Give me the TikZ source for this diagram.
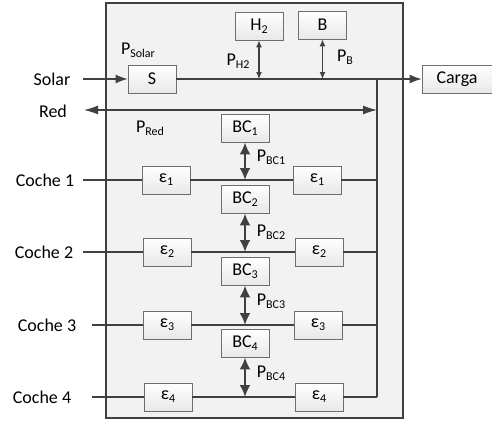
\documentclass[tikz,border=0pt]{standalone}
\usepackage{fontspec}
\setmainfont{Carlito}
\usetikzlibrary{arrows.meta,positioning}
\definecolor{linegray}{RGB}{64,64,64}
\definecolor{boxgray}{RGB}{110,110,110}
\definecolor{framefill}{RGB}{242,242,242}
\newcommand{\sub}[1]{\raisebox{-0.35ex}{\fontsize{12}{12}\selectfont #1}}

\begin{document}
\begin{tikzpicture}[
    x=1pt, y=-1pt,
    every node/.style={font=\fontsize{18}{20}\selectfont},
    frame/.style={rectangle, draw=linegray, fill=framefill, line width=1.4pt, minimum width=297pt, minimum height=415pt},
    block/.style={rectangle, draw=boxgray, top color=white, bottom color=gray!18, minimum width=48pt, minimum height=28pt, inner sep=0pt, line width=0.8pt},
    line/.style={draw=linegray, line width=1.2pt},
    arrow/.style={line, -{Latex[length=12pt,width=9pt]}},
    redarrow/.style={line, {Latex[length=14pt,width=9pt]}-{Latex[length=14pt,width=9pt]}},
    thinflow/.style={line, {Latex[length=7pt,width=6pt]}-{Latex[length=7pt,width=6pt]}},
    thickflow/.style={draw=linegray, line width=2.5pt, {Latex[length=12pt,width=11pt]}-{Latex[length=12pt,width=11pt]}}
]
\useasboundingbox (0,0) rectangle (492,423);

% System frame
\node[frame] (sistema) at (254.5,210.5) {};

% Sources and load
\node[block] (H2) at (259,26) {H\sub{2}};
\node[block] (B) at (322.5,25) {B};
\node[block] (S) at (152,79) {S};
\node[block, minimum width=70pt] (carga) at (457,79) {Carga};
\node (solar) at (52,79) {Solar};
\node (red) at (53,111) {Red};
\node (psolar) at (138,50) {P\sub{Solar}};
\node (ph2) at (238,61) {P\sub{H2}};
\node (pb) at (345,57) {P\sub{B}};
\node (pred) at (150,128) {P\sub{Red}};

\coordinate (solarin) at (83,79);
\coordinate (h2j) at (259,79);
\coordinate (bj) at (322.5,79);
\coordinate (redL) at (84,110);
\coordinate (redR) at (377,110);
\coordinate (busTop) at (377,79);
\coordinate (busBot) at (377,397);

% Cars
\node (coche1) at (45,180) {Coche 1};
\node (coche2) at (44,252) {Coche 2};
\node (coche3) at (47,325) {Coche 3};
\node (coche4) at (42,397) {Coche 4};
\coordinate (c1in) at (83,180);
\coordinate (c2in) at (83,252);
\coordinate (c3in) at (92,325);
\coordinate (c4in) at (92,397);

\node[block] (eL1) at (166,180) {ε\sub{1}};
\node[block] (eL2) at (167,252) {ε\sub{2}};
\node[block] (eL3) at (167,325) {ε\sub{3}};
\node[block] (eL4) at (168,397) {ε\sub{4}};
\node[block] (eR1) at (317,180) {ε\sub{1}};
\node[block] (eR2) at (319,252) {ε\sub{2}};
\node[block] (eR3) at (318,325) {ε\sub{3}};
\node[block] (eR4) at (319,397) {ε\sub{4}};

% Car batteries
\node[block] (BC1) at (245,128) {BC\sub{1}};
\node[block] (BC2) at (245,199) {BC\sub{2}};
\node[block] (BC3) at (245,271) {BC\sub{3}};
\node[block] (BC4) at (245,343) {BC\sub{4}};
\node (pbc1) at (271,157) {P\sub{BC1}};
\node (pbc2) at (271,232) {P\sub{BC2}};
\node (pbc3) at (271,301) {P\sub{BC3}};
\node (pbc4) at (271,373) {P\sub{BC4}};
\coordinate (bc1j) at (245,180);
\coordinate (bc2j) at (245,252);
\coordinate (bc3j) at (245,325);
\coordinate (bc4j) at (245,397);
\coordinate (bus1) at (377,180);
\coordinate (bus2) at (377,252);
\coordinate (bus3) at (377,325);
\coordinate (bus4) at (377,397);

% Connections
\draw[arrow] (solarin) -- (S);
\draw[arrow] (S) -- (carga);
\draw[thinflow] (H2) -- (h2j);
\draw[thinflow] (B) -- (bj);
\draw[redarrow] (redL) -- (redR);
\draw[line] (busTop) -- (busBot);

\draw[line] (c1in) -- (eL1) -- (eR1) -- (bus1);
\draw[line] (c2in) -- (eL2) -- (eR2) -- (bus2);
\draw[line] (c3in) -- (eL3) -- (eR3) -- (bus3);
\draw[line] (c4in) -- (eL4) -- (eR4) -- (bus4);

\draw[thickflow] (BC1) -- (bc1j);
\draw[thickflow] (BC2) -- (bc2j);
\draw[thickflow] (BC3) -- (bc3j);
\draw[thickflow] (BC4) -- (bc4j);

\end{tikzpicture}
\end{document}
